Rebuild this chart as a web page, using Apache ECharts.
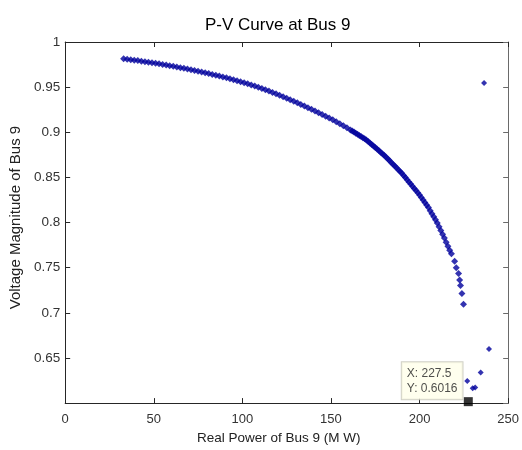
<!DOCTYPE html>
<html>
<head>
<meta charset="utf-8">
<script src="https://cdn.jsdelivr.net/npm/echarts@6/dist/echarts.min.js"></script>
<style>
html,body{margin:0;padding:0;background:#fff;}
#c{width:522px;height:450px;}
</style>
</head>
<body>
<div id="c"></div>
<script>
// Upper branch of the P-V curve: real power (MW) and voltage magnitude (p.u.)
const curveP = [33,35,37,39,41,43,45,47,49,51,53,55,57,59,61,63,65,67,69,71,73,75,77,79,81,83,85,87,89,91,93,95,97,99,101,103,105,107,109,111,113,115,117,119,121,123,125,127,129,131,133,135,137,139,141,143,145,147,149,151,153,155,157,159,161,162,163,164,165,166,167,168,169,170,171,172,173,174,175,176,177,178,179,180,181,182,183,184,185,186,187,188,189,190,191,192,193,194,195,196,197,198,199,200,201,202,203,204,205,206,207,208,209,210,211,212,213,214,215,216,217,218,219.8,220.7,222.0,222.6,223.1,223.9,224.8];
const curveV = [0.9814,0.9809,0.9804,0.9799,0.9794,0.9788,0.9782,0.9776,0.9770,0.9764,0.9758,0.9751,0.9744,0.9738,0.9731,0.9723,0.9716,0.9709,0.9701,0.9693,0.9685,0.9677,0.9668,0.9660,0.9651,0.9641,0.9632,0.9623,0.9613,0.9603,0.9593,0.9582,0.9571,0.9561,0.9549,0.9537,0.9525,0.9512,0.9500,0.9486,0.9471,0.9456,0.9441,0.9426,0.9410,0.9394,0.9377,0.9360,0.9344,0.9327,0.9309,0.9291,0.9273,0.9255,0.9236,0.9216,0.9197,0.9178,0.9158,0.9138,0.9116,0.9094,0.9072,0.9050,0.9026,0.9014,0.9002,0.8990,0.8977,0.8965,0.8952,0.8940,0.8928,0.8915,0.8899,0.8882,0.8865,0.8848,0.8831,0.8814,0.8797,0.8780,0.8763,0.8746,0.8726,0.8706,0.8686,0.8666,0.8646,0.8626,0.8606,0.8586,0.8566,0.8546,0.8522,0.8498,0.8474,0.8450,0.8426,0.8402,0.8378,0.8354,0.8330,0.8306,0.8278,0.8250,0.8222,0.8194,0.8166,0.8132,0.8098,0.8064,0.8030,0.7996,0.7954,0.7912,0.7870,0.7828,0.7783,0.7738,0.7693,0.7655,0.7571,0.7500,0.7436,0.7364,0.7304,0.7214,0.7096];
// Scattered points beyond the nose
const extraP = [226.9,230.0,231.4,234.5,239.2,236.4];
const extraV = [0.6245,0.6165,0.6172,0.6340,0.6600,0.9546];
// Data tip point
const tipP = [227.5];
const tipV = [0.6016];
// Axis ticks
const xTicks = [0,50,100,150,200,250];
const yTicks = [0.6,0.65,0.7,0.75,0.8,0.85,0.9,0.95,1];

const zip = (a,b) => a.map((v,i)=>[v,b[i]]);
const FONT = 'Liberation Sans, Arial, sans-serif';
const blue = '#00009c';

const chart = echarts.init(document.getElementById('c'), null, {renderer:'canvas'});
const axisColor = '#262626';
const baseX = {
  type:'value', min:xTicks[0], max:xTicks[xTicks.length-1], interval:50,
  splitLine:{show:false},
  axisLine:{show:true, onZero:false, lineStyle:{color:axisColor,width:1}},
  axisTick:{show:true, inside:true, length:5, lineStyle:{color:axisColor}},
};
const baseY = {
  type:'value', min:yTicks[0], max:yTicks[yTicks.length-1], interval:0.05,
  splitLine:{show:false},
  axisLine:{show:true, onZero:false, lineStyle:{color:axisColor,width:1}},
  axisTick:{show:true, inside:true, length:5, lineStyle:{color:axisColor}},
};
chart.setOption({
  animation:false,
  backgroundColor:'#ffffff',
  title:{
    text:'P-V Curve at Bus 9', left:200, top:12,
    textStyle:{fontFamily:FONT, fontSize:17, fontWeight:'normal', color:'#000'}
  },
  grid:{left:63, right:11, top:42, bottom:38, containLabel:false},
  xAxis:[
    Object.assign({}, baseX, {
      position:'bottom',
      name:'Real Power of Bus 9 (M W)', nameLocation:'middle', nameGap:19,
      nameTextStyle:{fontFamily:FONT, fontSize:13.5, color:'#222', padding:[0,16,0,0]},
      axisLabel:{show:true, margin:10, fontFamily:FONT, fontSize:13, color:'#333',
        formatter:v=>String(v)}
    }),
    Object.assign({}, baseX, {position:'top', axisLabel:{show:false},
      axisTick:{show:true, inside:true, length:5, lineStyle:{color:axisColor}}})
  ],
  yAxis:[
    Object.assign({}, baseY, {
      position:'left',
      name:'Voltage Magnitude of Bus 9', nameLocation:'middle', nameGap:35,
      nameTextStyle:{fontFamily:FONT, fontSize:15, color:'#222', padding:[0,0,0,10]},
      axisLabel:{show:true, margin:5, fontFamily:FONT, fontSize:13.5, color:'#333',
        formatter:v=> (Math.abs(v-0.6)<1e-9 ? '' : String(+v.toFixed(2)))}
    }),
    Object.assign({}, baseY, {position:'right', axisLabel:{show:false},
      axisLine:{show:true, onZero:false, lineStyle:{color:'#6a6a6a',width:1}},
      axisTick:{show:true, inside:true, length:5, lineStyle:{color:'#6a6a6a'}}})
  ],
  series:[
    {
      type:'scatter', xAxisIndex:0, yAxisIndex:0,
      data:zip(curveP, curveV),
      symbol:'diamond', symbolSize:7,
      itemStyle:{color:blue}
    },
    {
      type:'scatter', xAxisIndex:0, yAxisIndex:0,
      data:zip(extraP, extraV),
      symbol:'diamond', symbolSize:6,
      itemStyle:{color:blue}
    },
    {
      type:'scatter', xAxisIndex:0, yAxisIndex:0,
      data:zip(tipP, tipV),
      symbol:'rect', symbolSize:9,
      itemStyle:{color:'#000'},
      z:5,
      label:{
        show:true, position:[-62,-35],
        formatter:p=>'X: '+p.value[0]+'\nY: '+p.value[1],
        fontFamily:FONT, fontSize:12, color:'#222', lineHeight:15,
        backgroundColor:'#ffffea', borderColor:'#c4c4b8', borderWidth:1,
        padding:[4,5,3,5], align:'left', verticalAlign:'top'
      }
    }
  ]
});
</script>
</body>
</html>
